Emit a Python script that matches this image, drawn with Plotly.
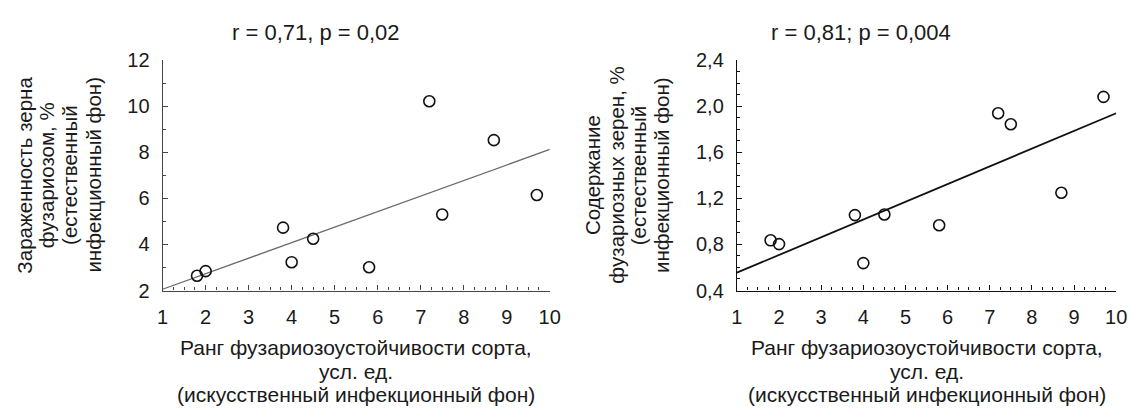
import numpy as np
import plotly.graph_objects as go

# Variety rank of fusarium resistance (artificial infection background)
rank = [1.8, 2.0, 3.8, 4.0, 4.5, 5.8, 7.2, 7.5, 8.7, 9.7]

# Grain infection with fusarium, % (natural background)
infection = [2.64, 2.84, 4.73, 3.23, 4.25, 3.01, 10.22, 5.30, 8.53, 6.15]

# Share of fusarium-damaged kernels, % (natural background)
damaged = [0.836, 0.803, 1.055, 0.638, 1.06, 0.967, 1.94, 1.844, 1.249, 2.082]

x_ticks = [1, 2, 3, 4, 5, 6, 7, 8, 9, 10]
y1_ticks = [2, 4, 6, 8, 10, 12]
y2_ticks = [0.4, 0.8, 1.2, 1.6, 2.0, 2.4]
y2_ticktext = ["0,4", "0,8", "1,2", "1,6", "2,0", "2,4"]

title_left = "r = 0,71, p = 0,02"
title_right = "r = 0,81; p = 0,004"
ytitle_left = ["Зараженность зерна", "фузариозом, %", "(естественный", "инфекционный фон)"]
ytitle_right = ["Содержание", "фузариозных зерен, %", "(естественный", "инфекционный фон)"]
xtitle = ["Ранг фузариозоустойчивости сорта,", "усл. ед.", "(искусственный инфекционный фон)"]

FONT = "Liberation Sans, Arial, sans-serif"
TEXT = "#1a1a1a"
W, H = 1137, 419


def px_x(p):
    return p / W


def px_y(p):
    return 1 - p / H


def fit_line(x, y):
    k, b = np.polyfit(x, y, 1)
    xs = np.array([1.0, 10.0])
    return xs, k * xs + b


fig = go.Figure()

# Left panel
lx, ly = fit_line(rank, infection)
fig.add_trace(go.Scatter(x=lx, y=ly, mode="lines", line=dict(color="#6a6a6a", width=1.3),
                         xaxis="x", yaxis="y", showlegend=False, hoverinfo="skip"))
fig.add_trace(go.Scatter(x=rank, y=infection, mode="markers",
                         marker=dict(symbol="circle-open", size=11, color="#111",
                                     line=dict(width=1.6)),
                         xaxis="x", yaxis="y", showlegend=False, cliponaxis=False))

# Right panel
rx, ry = fit_line(rank, damaged)
fig.add_trace(go.Scatter(x=rx, y=ry, mode="lines", line=dict(color="#111", width=1.8),
                         xaxis="x2", yaxis="y2", showlegend=False, hoverinfo="skip"))
fig.add_trace(go.Scatter(x=rank, y=damaged, mode="markers",
                         marker=dict(symbol="circle-open", size=11, color="#111",
                                     line=dict(width=1.6)),
                         xaxis="x2", yaxis="y2", showlegend=False, cliponaxis=False))

tickfont = dict(family=FONT, size=20, color=TEXT)


def xaxis(domain, anchor, color):
    return dict(domain=domain, anchor=anchor, range=[1, 10], tickvals=x_ticks,
                ticks="inside", ticklen=5, tickwidth=1, tickcolor=color,
                showline=True, linecolor=color, linewidth=1.2, showgrid=False,
                zeroline=False, tickfont=tickfont, ticklabelstandoff=8,
                minor=dict(dtick=0.25, ticks="inside", ticklen=3, tickcolor=color,
                           showgrid=False))


def yaxis(domain, anchor, rng, vals, text, mdt, color):
    return dict(domain=domain, anchor=anchor, range=rng, tickvals=vals, ticktext=text,
                ticks="inside", ticklen=5, tickwidth=1, tickcolor=color,
                showline=True, linecolor=color, linewidth=1.2, showgrid=False,
                zeroline=False, tickfont=tickfont, ticklabelstandoff=8,
                minor=dict(dtick=mdt, ticks="inside", ticklen=3, tickcolor=color,
                           showgrid=False))


ydom = [px_y(295), px_y(52)]
fig.update_layout(
    width=W, height=H, margin=dict(l=0, r=0, t=0, b=0),
    paper_bgcolor="white", plot_bgcolor="white",
    font=dict(family=FONT, size=20, color=TEXT),
    xaxis=xaxis([px_x(159), px_x(552)], "y", "#444"),
    yaxis=yaxis(ydom, "x", [2, 12], y1_ticks, [str(v) for v in y1_ticks], 1, "#444"),
    xaxis2=xaxis([px_x(742), px_x(1127)], "y2", "#111"),
    yaxis2=yaxis(ydom, "x2", [0.4, 2.4], y2_ticks, y2_ticktext, 0.1, "#111"),
)


def label(text, x, y, angle=0, size=20.5):
    fig.add_annotation(xref="paper", yref="paper", showarrow=False,
                       xanchor="center", yanchor="middle", textangle=angle,
                       x=px_x(x), y=px_y(y), text=text,
                       font=dict(family=FONT, size=size, color=TEXT))


# Panel titles with the correlation statistics
label(title_left, 315, 23, size=22)
label(title_right, 868, 23, size=22)

# Rotated y-axis titles, one line each
for line, xp in zip(ytitle_left, [19, 42, 65, 89]):
    label(line, xp, 173, angle=-90)
for line, xp in zip(ytitle_right, [596, 620, 643, 666]):
    label(line, xp, 173, angle=-90)

# Shared x-axis title under each panel
for line, yp in zip(xtitle, [355, 380, 405]):
    label(line, 355, yp, size=21)
    label(line, 935, yp, size=21)

fig.write_html("out.html")
